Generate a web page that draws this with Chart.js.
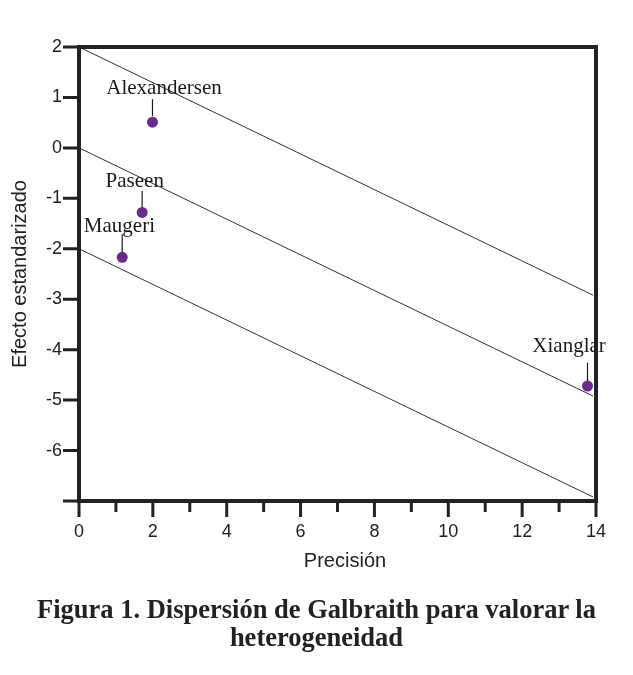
<!DOCTYPE html>
<html>
<head>
<meta charset="utf-8">
<script src="https://cdn.jsdelivr.net/npm/chart.js@4"></script>
<style>
body{margin:0;background:#fff;}
#wrap{position:relative;width:633px;height:675px;}
#caption{position:absolute;left:0;top:595px;width:633px;text-align:center;font:bold 26.5px/28px "Liberation Serif";color:#222;}
</style>
</head>
<body>
<div id="wrap">
<canvas id="myChart" width="633" height="675"></canvas>
<div id="caption">Figura 1. Dispersión de Galbraith para valorar la<br>heterogeneidad</div>
</div>
<script>
// estudios del grafico de Galbraith
const estudios = ['Alexandersen', 'Paseen', 'Maugeri', 'Xianglar'];
const precision = [1.99, 1.71, 1.17, 13.77];
const efecto = [0.51, -1.28, -2.17, -4.72];

// rectas (extremos)
const rectaX = [0, 13.92];
const rectaSup = [2, -2.92];
const rectaMed = [0, -4.92];
const rectaInf = [-2, -6.92];

const xEtiquetas = [0, 2, 4, 6, 8, 10, 12, 14];
const yEtiquetas = [2, 1, 0, -1, -2, -3, -4, -5, -6];

const negro = '#222';

function recta(ys) {
  return rectaX.map((x, i) => ({x: x, y: ys[i]}));
}

// posicion de los nombres respecto al punto
const offs = {
  'Alexandersen': {dx: 11.5, dy: -28, l1: -23, l2: -6},
  'Paseen': {dx: -7.4, dy: -25.7, l1: -21.7, l2: -5},
  'Maugeri': {dx: -2.8, dy: -25.3, l1: -23, l2: -5},
  'Xianglar': {dx: -18.4, dy: -34, l1: -23.3, l2: -5}
};

const marco = {
  id: 'marco',
  afterDatasetsDraw(chart) {
    const ctx = chart.ctx;
    const meta = chart.getDatasetMeta(0);
    ctx.save();
    ctx.font = '21px "Liberation Serif"';
    ctx.fillStyle = '#1a1a1a';
    ctx.strokeStyle = '#1a1a1a';
    ctx.lineWidth = 1.2;
    ctx.textAlign = 'center';
    ctx.textBaseline = 'alphabetic';
    meta.data.forEach((p, i) => {
      const o = offs[estudios[i]];
      ctx.fillText(estudios[i], p.x + o.dx, p.y + o.dy);
      ctx.beginPath();
      ctx.moveTo(p.x, p.y + o.l1);
      ctx.lineTo(p.x, p.y + o.l2);
      ctx.stroke();
    });
    ctx.restore();
  },
  afterDraw(chart) {
    const ctx = chart.ctx;
    const a = chart.chartArea;
    const xs = chart.scales.x, ys = chart.scales.y;
    ctx.save();
    ctx.strokeStyle = negro;
    ctx.lineWidth = 4;
    ctx.strokeRect(a.left, a.top, a.right - a.left, a.bottom - a.top);
    ctx.lineWidth = 3;
    ctx.beginPath();
    xs.ticks.forEach(t => {
      const px = xs.getPixelForValue(t.value);
      const len = t.value % 2 === 0 ? 16 : 11;
      ctx.moveTo(px, a.bottom);
      ctx.lineTo(px, a.bottom + len);
    });
    ys.ticks.forEach(t => {
      const py = ys.getPixelForValue(t.value);
      ctx.moveTo(a.left - 16, py);
      ctx.lineTo(a.left, py);
    });
    ctx.stroke();
    ctx.fillStyle = negro;
    ctx.font = '20px "Liberation Sans"';
    ctx.textAlign = 'center';
    ctx.textBaseline = 'middle';
    ctx.fillText('Precisión', 345, 561);
    ctx.restore();
  }
};

const ctx = document.getElementById('myChart').getContext('2d');
new Chart(ctx, {
  type: 'scatter',
  data: {
    datasets: [
      {
        label: 'Estudios',
        data: precision.map((x, i) => ({x: x, y: efecto[i]})),
        backgroundColor: '#6b2a8e',
        borderWidth: 0,
        pointRadius: 5.5,
        order: 0
      },
      {data: recta(rectaSup), showLine: true, borderColor: '#333', borderWidth: 1, pointRadius: 0, order: 1},
      {data: recta(rectaMed), showLine: true, borderColor: '#333', borderWidth: 1, pointRadius: 0, order: 1},
      {data: recta(rectaInf), showLine: true, borderColor: '#333', borderWidth: 1, pointRadius: 0, order: 1}
    ]
  },
  options: {
    responsive: false,
    animation: false,
    devicePixelRatio: 1,
    layout: {padding: {left: 0, top: 47, right: 37, bottom: 103}},
    plugins: {legend: {display: false}, tooltip: {enabled: false}},
    scales: {
      x: {
        min: 0, max: 14,
        grid: {display: false, drawTicks: false},
        border: {display: false},
        ticks: {
          stepSize: 1, autoSkip: false, maxRotation: 0,
          color: negro, padding: 20,
          font: {family: 'Liberation Sans', size: 18},
          callback: v => xEtiquetas.includes(v) ? String(v) : ''
        },
        afterFit: s => { s.height = 71; }
      },
      y: {
        min: -7, max: 2,
        grid: {display: false, drawTicks: false},
        border: {display: false},
        title: {display: true, text: 'Efecto estandarizado', color: negro,
          font: {family: 'Liberation Sans', size: 20}, padding: {top: 8, bottom: 0}},
        ticks: {
          stepSize: 1, autoSkip: false, color: negro, padding: 17,
          font: {family: 'Liberation Sans', size: 18},
          callback: v => yEtiquetas.includes(v) ? String(v) : ''
        },
        afterFit: s => { s.width = 79; }
      }
    }
  },
  plugins: [marco]
});
</script>
</body>
</html>
